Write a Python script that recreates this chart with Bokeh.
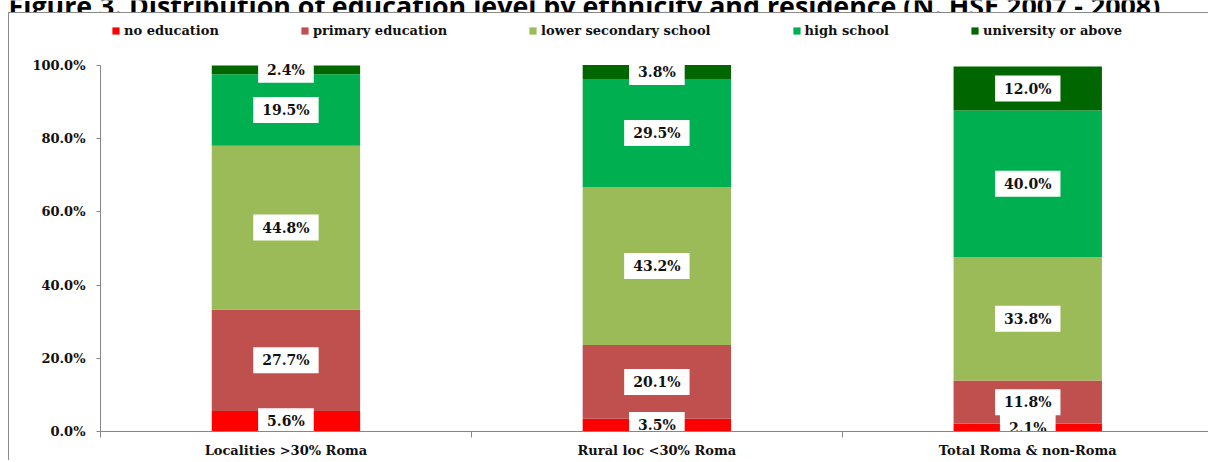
import numpy as np
from bokeh.plotting import figure
from bokeh.layouts import column
from bokeh.models import (ColumnDataSource, Range1d, FixedTicker, NumeralTickFormatter,
                          Legend, LegendItem, Label)
from bokeh.core.properties import value
from bokeh.embed import file_html
from bokeh.resources import INLINE

# ---------------- data ----------------
title_text = "Figure 3. Distribution of education level by ethnicity and residence (N. HSE 2007 - 2008)"
categories = ["Localities >30% Roma", "Rural loc <30% Roma", "Total Roma & non-Roma"]
levels = ["no education", "primary education", "lower secondary school",
          "high school", "university or above"]
no_education = [5.6, 3.5, 2.1]
primary_education = [27.7, 20.1, 11.8]
lower_secondary_school = [44.8, 43.2, 33.8]
high_school = [19.5, 29.5, 40.0]
university_or_above = [2.4, 3.8, 12.0]
colors = ["#FF0000", "#C0504D", "#9BBB59", "#00B050", "#006600"]
y_ticks = [0.0, 0.2, 0.4, 0.6, 0.8, 1.0]

series = [no_education, primary_education, lower_secondary_school,
          high_school, university_or_above]
keys = ["s%d" % i for i in range(len(levels))]

x = np.arange(len(categories)) + 0.5
data = {"x": x}
for k, s in zip(keys, series):
    data[k] = np.array(s) / 100.0
src = ColumnDataSource(data)

# label positions (segment middles)
lx, ly, lt = [], [], []
cum = np.zeros(len(categories))
for s in series:
    arr = np.array(s) / 100.0
    for i in range(len(categories)):
        lx.append(x[i])
        ly.append(cum[i] + arr[i] / 2)
        lt.append("%.1f%%" % s[i])
    cum = cum + arr
lsrc = ColumnDataSource(dict(x=lx, y=ly, text=lt))

FONT = "DejaVu Serif"

# ---------------- title strip (title is cut by the page top, as in the source) ----------------
t = figure(width=1200, height=12, output_backend="svg", toolbar_location=None,
           x_range=Range1d(0, 1200), y_range=Range1d(0, 12),
           x_axis_type=None, y_axis_type=None,
           min_border_left=0, min_border_right=0, min_border_top=0, min_border_bottom=0)
t.frame_align = False
t.grid.visible = False
t.outline_line_color = None
t.add_layout(Label(x=0, y=7, text=title_text, text_font="Open Sans",
                   text_font_style="bold", text_font_size="26.8px",
                   text_color="#000000", text_baseline="alphabetic", text_align="left"))

# ---------------- chart ----------------
p = figure(width=1200, height=448, output_backend="svg", toolbar_location=None,
           x_range=Range1d(0, 2.99), y_range=Range1d(0, 1.142),
           min_border_left=91, min_border_right=0, min_border_top=0,
           min_border_bottom=30,
           styles={"border-left": "1.5px solid #8a8a8a",
                   "border-top": "1.5px solid #8a8a8a"})
p.frame_align = False
p.outline_line_color = None
p.xgrid.grid_line_color = None
p.ygrid.grid_line_color = None
p.background_fill_color = "white"
p.border_fill_color = "white"

rends = p.vbar_stack(keys, x="x", width=0.4, color=colors, line_color=None, source=src)

p.text(x="x", y="y", text="text", source=lsrc, text_align="center",
       text_baseline="middle", text_font=value(FONT), text_font_style="bold",
       text_font_size="14px", text_color="#111111",
       background_fill_color="white",
       padding=dict(left=9, right=9, top=5, bottom=5))

# axes
ya = p.yaxis[0]
ya.ticker = FixedTicker(ticks=y_ticks)
ya.bounds = (0, 1)
ya.formatter = NumeralTickFormatter(format="0.0%")
ya.axis_line_color = "#868686"
ya.major_tick_line_color = "#868686"
ya.major_tick_out = 4
ya.major_tick_in = 0
ya.minor_tick_line_color = None
ya.major_label_standoff = 11
ya.major_label_text_font = FONT
ya.major_label_text_font_style = "bold"
ya.major_label_text_font_size = "13px"
ya.major_label_text_color = "#111111"

xa = p.xaxis[0]
xa.ticker = FixedTicker(ticks=list(x), minor_ticks=[0, 1, 2, 3])
xa.major_label_overrides = {float(v): c for v, c in zip(x, categories)}
xa.axis_line_color = "#868686"
xa.major_tick_line_color = None
xa.minor_tick_line_color = "#868686"
xa.minor_tick_out = 6
xa.minor_tick_in = 0
xa.major_label_standoff = 5
xa.major_label_text_font = FONT
xa.major_label_text_font_style = "bold"
xa.major_label_text_font_size = "13px"
xa.major_label_text_color = "#111111"

legend = Legend(items=[LegendItem(label=l, renderers=[r]) for l, r in zip(levels, rends)],
                orientation="horizontal", location=(11, 393),
                glyph_width=9, glyph_height=9, label_standoff=4, spacing=81,
                label_height=14, padding=0, margin=0,
                border_line_color=None, background_fill_alpha=0,
                label_text_font=FONT, label_text_font_style="bold",
                label_text_font_size="13px", label_text_color="#111111")
p.add_layout(legend, "center")

layout = column(t, p, spacing=0, styles={"margin-left": "8px"})

open("out.html", "w").write(file_html(layout, INLINE))
